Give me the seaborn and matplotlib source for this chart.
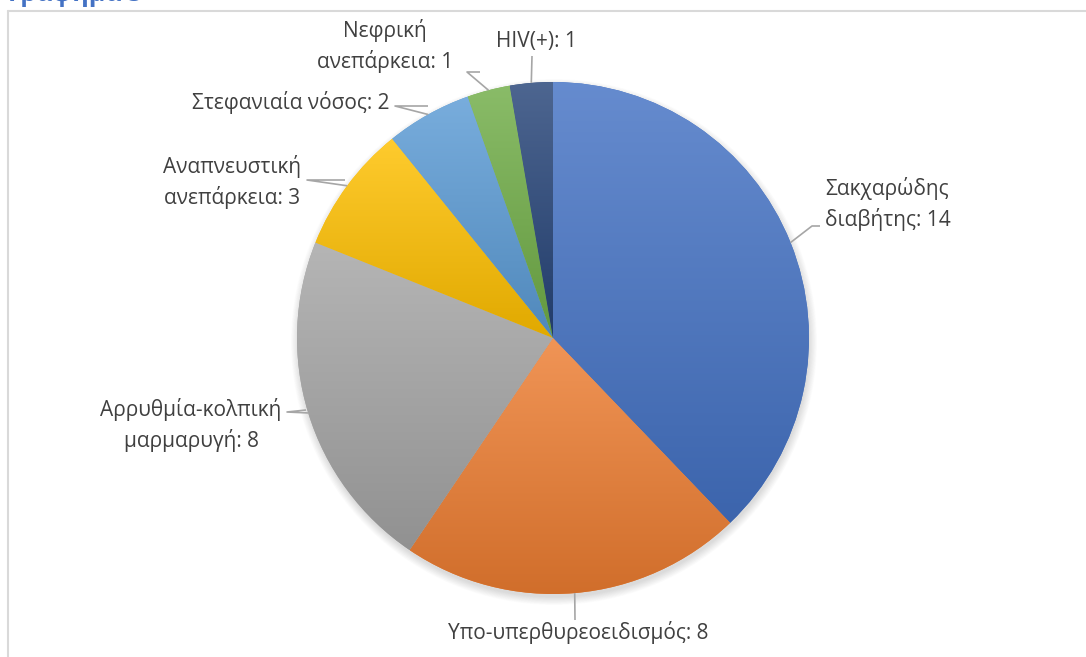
import numpy as np
import matplotlib
matplotlib.use("Agg")
import matplotlib.pyplot as plt
import matplotlib.colors as mcolors
from matplotlib.patches import Circle
import seaborn as sns

categories = ["Σακχαρώδης\nδιαβήτης", "Υπο-υπερθυρεοειδισμός", "Αρρυθμία-κολπική\nμαρμαρυγή",
              "Αναπνευστική\nανεπάρκεια", "Στεφανιαία νόσος", "Νεφρική\nανεπάρκεια", "HIV(+)"]
values = [14, 8, 8, 3, 2, 1, 1]
colors = ["#4472C4", "#ED7D31", "#A5A5A5", "#FFC000", "#5B9BD5", "#70AD47", "#264478"]
title = "Γράφημα 5"

# label text positions (pixels, y down) and alignment
label_pos = [(825, 204), (578, 633), (191, 425), (232, 182), (291, 102), (385, 46), (536, 41)]
label_ha = ["left", "center", "center", "center", "center", "center", "center"]
# leader line elbow points (pixels, y down)
leader_pts = [
    [(812, 226), (820, 226)],
    [(575, 620)],
    [(287, 412), (306, 410)],
    [(307, 180), (345, 180)],
    [(395, 106), (428, 106)],
    [(467, 72), (480, 72)],
    [(532, 56)],
]

sns.set_theme(style="white")
plt.rcParams["font.family"] = ["Open Sans", "DejaVu Sans"]

W, H = 1086, 657
fig = plt.figure(figsize=(W / 100, H / 100), dpi=100)
ax = fig.add_axes([0, 0, 1, 1])

cx, cy, R = 553, H - 338, 256

# soft shadow
for i in range(12):
    ax.add_patch(Circle((cx + 1, cy - 4), R + 7 - i * 0.7, color="black", alpha=0.012, lw=0, zorder=1))

wedges, _ = ax.pie(values, colors=colors, startangle=90, counterclock=False,
                   center=(cx, cy), radius=R, frame=True,
                   wedgeprops=dict(linewidth=0, zorder=2))

# vertical gradient per wedge
for w, c in zip(wedges, colors):
    rgb = np.array(mcolors.to_rgb(c))
    top = rgb + (1 - rgb) * 0.18
    bot = rgb * 0.88
    t = np.linspace(0, 1, 256)[:, None]
    grad = top[None, :] * (1 - t) + bot[None, :] * t
    img = np.repeat(grad[:, None, :], 2, axis=1)
    bb = w.get_path().get_extents(w.get_patch_transform())
    im = ax.imshow(img, extent=[bb.x0, bb.x1, bb.y0, bb.y1], origin="upper",
                   aspect="auto", zorder=3, interpolation="bilinear")
    im.set_clip_path(w)

ax.set_xlim(0, W)
ax.set_ylim(0, H)
ax.set_aspect("equal")
ax.axis("off")

# labels with leader lines
cum = 0
total = sum(values)
for i, (cat, v) in enumerate(zip(categories, values)):
    mid = 90 - 360 * (cum + v / 2) / total
    cum += v
    ex = cx + R * np.cos(np.radians(mid))
    ey = cy + R * np.sin(np.radians(mid))
    pts = [(ex, ey)] + [(x, H - y) for x, y in leader_pts[i]]
    xs, ys = zip(*pts)
    ax.plot(xs, ys, color="#A6A6A6", lw=1.2, zorder=4, solid_capstyle="butt")
    lx, ly = label_pos[i]
    ax.text(lx, H - ly, f"{cat}: {v}", ha=label_ha[i], va="center", fontsize=15,
            color="#404040", linespacing=1.42, zorder=5)

# chart border (top and left) and cut title
ax.plot([8, W], [H - 11, H - 11], color="#D9D9D9", lw=1.5, zorder=0)
ax.plot([8, 8], [H - 11, 0], color="#D9D9D9", lw=1.5, zorder=0)
ax.text(8, H - 1, title, ha="left", va="baseline", fontsize=18, fontweight="bold",
        color="#4472C4", clip_on=False)

fig.savefig("out.png", dpi=100)
